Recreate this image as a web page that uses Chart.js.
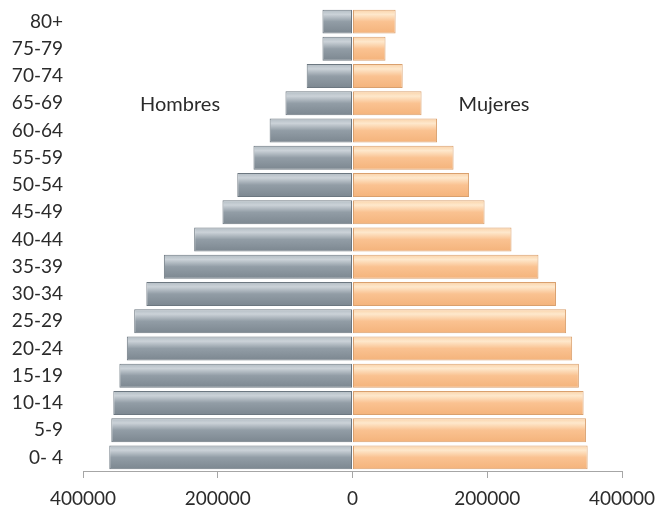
<!DOCTYPE html>
<html>
<head>
<meta charset="utf-8">
<script src="https://cdn.jsdelivr.net/npm/chart.js@4.4.0/dist/chart.umd.min.js"></script>
<style>
  html, body { margin: 0; padding: 0; background: #fff; }
  #wrap { width: 659px; height: 507px; }
</style>
</head>
<body>
<div id="wrap"><canvas id="pyramid" width="659" height="507"></canvas></div>
<script>
// grupos de edad, de arriba hacia abajo
var edades = ['80+', '75-79', '70-74', '65-69', '60-64', '55-59', '50-54', '45-49', '40-44',
              '35-39', '30-34', '25-29', '20-24', '15-19', '10-14', '5-9', '0- 4'];
var hombres = [44600, 44600, 68000, 99500, 123000, 147000, 171000, 193000, 235000,
               280000, 306000, 324000, 335000, 346000, 355000, 358000, 361000];
var mujeres = [64000, 49000, 74500, 102500, 125500, 150000, 173000, 196000, 236000,
               276000, 302000, 317000, 326000, 336000, 343000, 346500, 349000];
var ticksX = [-400000, -200000, 0, 200000, 400000];

var fuente = "Lato, 'Open Sans', sans-serif";

function brillo(colores) {
    return function (context) {
        var chart = context.chart;
        var y = chart.scales.y;
        if (!y || context.dataIndex === undefined) return colores[1];
        var c = y.getPixelForValue(context.dataIndex);
        var h = Math.abs(y.getPixelForValue(1) - y.getPixelForValue(0)) * 0.88;
        if (!isFinite(c) || !isFinite(h) || h <= 0) return colores[1];
        var g = chart.ctx.createLinearGradient(0, c - h / 2, 0, c + h / 2);
        g.addColorStop(0, colores[0]);
        g.addColorStop(0.2, colores[2]);
        g.addColorStop(0.5, colores[1]);
        g.addColorStop(1, colores[3]);
        return g;
    };
}

var etiquetas = {
    id: 'etiquetas',
    afterDatasetsDraw: function (chart) {
        var ctx = chart.ctx;
        var x = chart.scales.x, y = chart.scales.y;
        ctx.save();
        ctx.font = '20px ' + fuente;
        ctx.fillStyle = '#2b2b2b';
        ctx.textAlign = 'center';
        ctx.textBaseline = 'middle';
        ctx.fillText('Hombres', x.getPixelForValue(-256000), y.getPixelForValue(3) + 1);
        ctx.fillText('Mujeres', x.getPixelForValue(210000), y.getPixelForValue(3) + 1);
        ctx.restore();
    }
};

new Chart(document.getElementById('pyramid'), {
    type: 'bar',
    data: {
        labels: edades,
        datasets: [{
            label: 'Hombres',
            data: hombres.map(function (v) { return -v; }),
            backgroundColor: brillo(['#b2bcc3', '#929da6', '#cbd2d8', '#7c8790']),
            borderColor: '#6c7780',
            borderWidth: 1,
            borderSkipped: false,
            barPercentage: 0.88,
            categoryPercentage: 1
        }, {
            label: 'Mujeres',
            data: mujeres,
            backgroundColor: brillo(['#fad2a8', '#fac291', '#fee8cc', '#f4b37b']),
            borderColor: '#d9a06e',
            borderWidth: 1,
            borderSkipped: false,
            barPercentage: 0.88,
            categoryPercentage: 1
        }]
    },
    options: {
        indexAxis: 'y',
        responsive: false,
        animation: false,
        layout: { padding: { left: 0, right: 37, top: 8, bottom: 0 } },
        plugins: {
            legend: { display: false },
            tooltip: { enabled: false }
        },
        scales: {
            x: {
                stacked: true,
                min: -400000,
                max: 400000,
                afterBuildTicks: function (scale) {
                    scale.ticks = ticksX.map(function (v) { return { value: v }; });
                },
                afterFit: function (scale) {
                    scale.height = 36;
                    scale.paddingLeft = 0;
                    scale.paddingRight = 0;
                },
                ticks: {
                    color: '#2b2b2b',
                    font: { family: fuente, size: 19 },
                    padding: 9,
                    maxRotation: 0,
                    callback: function (v) { return String(Math.abs(v)); }
                },
                grid: {
                    drawOnChartArea: false,
                    tickLength: 7,
                    color: '#a6a6a6'
                },
                border: { color: '#a6a6a6', width: 1 }
            },
            y: {
                stacked: true,
                afterFit: function (scale) {
                    scale.width = 83;
                    scale.paddingTop = 0;
                    scale.paddingBottom = 0;
                },
                ticks: {
                    color: '#2b2b2b',
                    font: { family: fuente, size: 19 },
                    padding: 20,
                    autoSkip: false
                },
                grid: { display: false, drawTicks: false },
                border: { display: false }
            }
        }
    },
    plugins: [etiquetas]
});
</script>
</body>
</html>
